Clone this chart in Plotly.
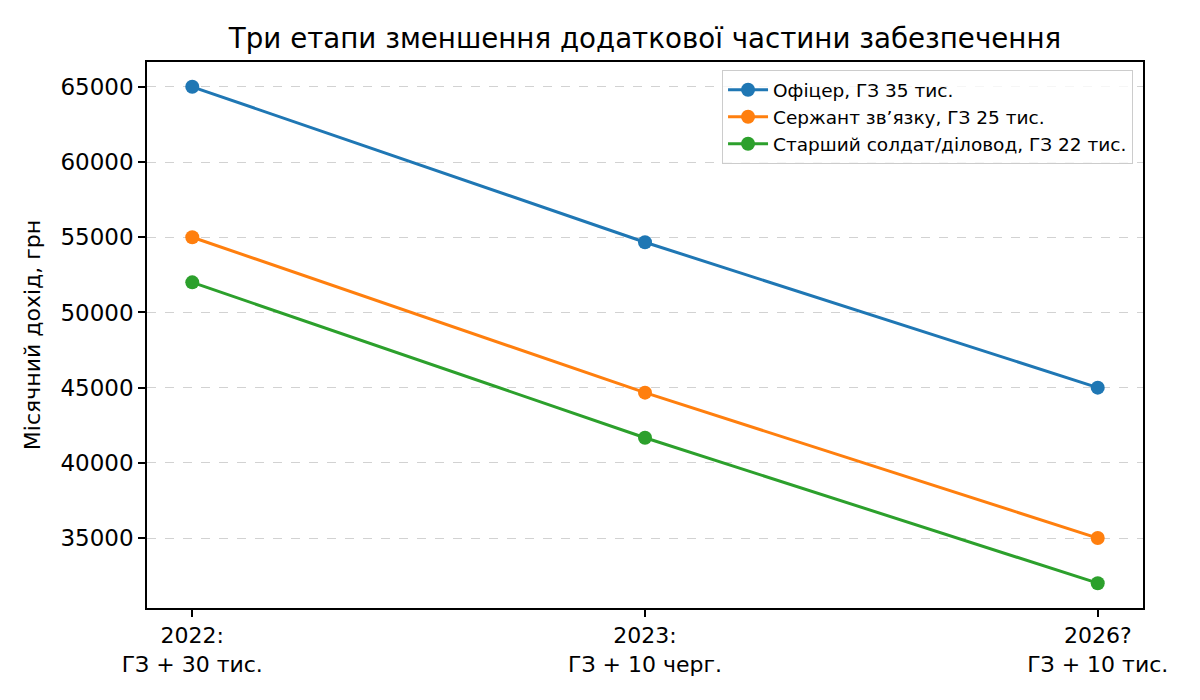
import plotly.graph_objects as go

categories = ["2022:<br>ГЗ + 30 тис.", "2023:<br>ГЗ + 10 черг.", "2026?<br>ГЗ + 10 тис."]
series_names = ["Офіцер, ГЗ 35 тис.", "Сержант зв’язку, ГЗ 25 тис.", "Старший солдат/діловод, ГЗ 22 тис."]
officer = [65000, 54667, 45000]
sergeant = [55000, 44667, 35000]
soldier = [52000, 41667, 32000]
colors = ["#1f77b4", "#ff7f0e", "#2ca02c"]
y_ticks = [35000, 40000, 45000, 50000, 55000, 60000, 65000]

x_pos = list(range(len(categories)))
fig = go.Figure()
for name, vals, col in zip(series_names, [officer, sergeant, soldier], colors):
    fig.add_trace(go.Scatter(
        x=x_pos, y=vals, name=name, mode="lines+markers",
        line=dict(color=col, width=3),
        marker=dict(color=col, size=14),
    ))

font = "DejaVu Sans"
fig.update_layout(
    width=1200, height=700,
    margin=dict(l=147, r=57, t=62, b=92),
    paper_bgcolor="white", plot_bgcolor="white",
    font=dict(family=font, size=23, color="black"),
    title=dict(text="Три етапи зменшення додаткової частини забезпечення",
               xref="paper", x=0.5, xanchor="center",
               yref="container", y=1 - 38/700, yanchor="middle",
               font=dict(size=27.7, family=font, color="black")),
    showlegend=True,
    legend=dict(x=0.99, y=0.985, xanchor="right", yanchor="top",
                bgcolor="rgba(255,255,255,0.8)", bordercolor="#cccccc", borderwidth=1,
                font=dict(size=18.5, family=font), tracegroupgap=0, itemwidth=40),
)
fig.update_xaxes(
    range=[-0.1, 2.1], tickmode="array", tickvals=x_pos, ticktext=categories,
    showgrid=False, showline=True, linecolor="black", linewidth=1.5, mirror=True,
    ticks="outside", ticklen=7, tickwidth=1.5, tickcolor="black", zeroline=False,
    tickfont=dict(size=22, family=font),
)
fig.update_yaxes(
    range=[30350, 66650], tickmode="array", tickvals=y_ticks,
    ticktext=[str(v) for v in y_ticks],
    showgrid=True, gridcolor="rgba(180,180,180,0.6)", griddash="dash", gridwidth=1,
    showline=True, linecolor="black", linewidth=1.5, mirror=True,
    ticks="outside", ticklen=7, tickwidth=1.5, tickcolor="black", zeroline=False,
    title=dict(text="Місячний дохід, грн", font=dict(size=22, family=font), standoff=14),
    tickfont=dict(size=23, family=font),
)
fig.write_html("out.html")
